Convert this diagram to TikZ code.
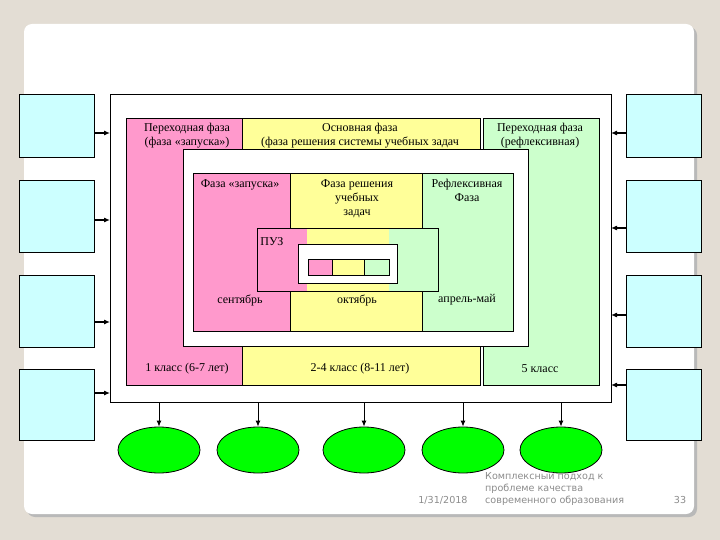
\documentclass[tikz,border=0pt]{standalone}
\usepackage{fontspec}
\setmainfont{Liberation Serif}
\newfontfamily\footfont{DejaVu Sans}
\usetikzlibrary{arrows.meta,positioning,calc,shapes.geometric}

\definecolor{slidebg}{HTML}{E3DDD4}
\definecolor{phpink}{HTML}{FF99CC}
\definecolor{phyellow}{HTML}{FFFF99}
\definecolor{phgreen}{HTML}{CCFFCC}
\definecolor{sidecyan}{HTML}{CCFFFF}
\definecolor{ovalgreen}{HTML}{00FF00}
\definecolor{foottext}{HTML}{8C8C8C}

\begin{document}
\begin{tikzpicture}[x=1pt,y=-1pt,>={Latex[length=6pt,width=5pt]},
  cell/.style={draw,line width=0.8pt,inner sep=0pt,anchor=north west},
  sidebox/.style={cell,fill=sidecyan,minimum width=75},
  lab/.style={font=\fontsize{12}{14}\selectfont,align=center,inner sep=0pt},
  oval/.style={ellipse,draw,line width=0.8pt,fill=ovalgreen,minimum width=82,minimum height=46,inner sep=0pt},
  foot/.style={font=\footfont\fontsize{9.6}{12}\selectfont,text=foottext,inner sep=0pt}]
% slide
\useasboundingbox (0,0) rectangle (720,540);
\fill[slidebg] (0,0) rectangle (720,540);
\fill[gray!55,rounded corners=8] (27,27) rectangle (697,517);
\fill[white,rounded corners=8] (24,24) rectangle (694,514);

% side boxes
\node[sidebox,minimum height=63] (lb1) at (19,94) {};
\node[sidebox,minimum height=72] (lb2) at (19,180) {};
\node[sidebox,minimum height=72] (lb3) at (19,275) {};
\node[sidebox,minimum height=71] (lb4) at (19,369) {};
\node[sidebox,minimum height=63] (rb1) at (626,94) {};
\node[sidebox,minimum height=72] (rb2) at (626,180) {};
\node[sidebox,minimum height=72] (rb3) at (626,275) {};
\node[sidebox,minimum height=71] (rb4) at (626,369) {};

% outer frame and phase columns
\node[cell,fill=white,minimum width=501,minimum height=308] (frame) at (110,94) {};
\node[cell,fill=phpink,minimum width=116,minimum height=267] (colA) at (126,118) {};
\node[cell,fill=phyellow,minimum width=238,minimum height=267] (colB) at (242,118) {};
\node[cell,fill=phgreen,minimum width=116,minimum height=267] (colC) at (483,118) {};
\node[lab,anchor=north] (tA) at (187,123) {Переходная фаза\\(фаза «запуска»)};
\node[lab,anchor=north] (tB) at (360,123) {Основная фаза\\(фаза решения системы учебных задач};
\node[lab,anchor=north] (tC) at (540,123) {Переходная фаза\\(рефлексивная)};
\node[lab] (bA) at (187,369) {1 класс (6-7 лет)};
\node[lab] (bB) at (360,369) {2-4 класс (8-11 лет)};
\node[lab] (bC) at (540,369) {5 класс};

% inner panel
\node[cell,fill=white,minimum width=345,minimum height=197] (panel) at (183,149) {};
\node[cell,fill=phpink,minimum width=97,minimum height=158] (inA) at (193,173) {};
\node[cell,fill=phyellow,minimum width=132,minimum height=158] (inB) at (290,173) {};
\node[cell,fill=phgreen,minimum width=91,minimum height=158] (inC) at (422,173) {};
\node[lab,anchor=north] at (240,179) {Фаза «запуска»};
\node[lab,anchor=north] at (357,179) {Фаза решения\\учебных\\задач};
\node[lab,anchor=north] at (467,179) {Рефлексивная\\Фаза};
\node[lab] at (240,300) {сентябрь};
\node[lab] at (357,300) {октябрь};
\node[lab] at (467,300) {апрель-май};

% ПУЗ block
\fill[phpink] (257,228) rectangle (307,291);
\fill[phyellow] (307,228) rectangle (389,291);
\fill[phgreen] (389,228) rectangle (438,291);
\node[cell,minimum width=181,minimum height=63] (puz) at (257,228) {};
\node[lab] at (272,242) {ПУЗ};
\node[cell,fill=white,minimum width=99,minimum height=39] (core) at (298,244) {};
\node[cell,fill=phpink,minimum width=24,minimum height=16] (barA) at (308,259) {};
\node[cell,fill=phyellow,minimum width=32,minimum height=16] (barB) at (332,259) {};
\node[cell,fill=phgreen,minimum width=25,minimum height=16] (barC) at (364,259) {};

% arrows into the frame
\foreach \i/\y in {1/133,2/220,3/322,4/393}{
  \coordinate (fl\i) at (110,\y);
  \draw[->,line width=1.1pt] (lb\i.east |- fl\i) -- (fl\i);}
\foreach \i/\y in {1/133,2/228,3/315,4/385}{
  \coordinate (fr\i) at (611,\y);
  \draw[->,line width=1.1pt] (rb\i.west |- fr\i) -- (fr\i);}

% results
\foreach \i/\x in {1/159,2/258,3/364,4/463,5/561}{
  \node[oval] (ov\i) at (\x,450) {};
  \draw[->,line width=1pt] (frame.south -| ov\i.north) -- (ov\i.north);}

% footer
\node[foot] (fdate) at (443,500) {1/31/2018};
\node[foot,anchor=west,align=left] (ftitle) at (485,489) {Комплексный подход к\\проблеме качества\\современного образования};
\node[foot] (fnum) at (680,500) {33};
\end{tikzpicture}
\end{document}
